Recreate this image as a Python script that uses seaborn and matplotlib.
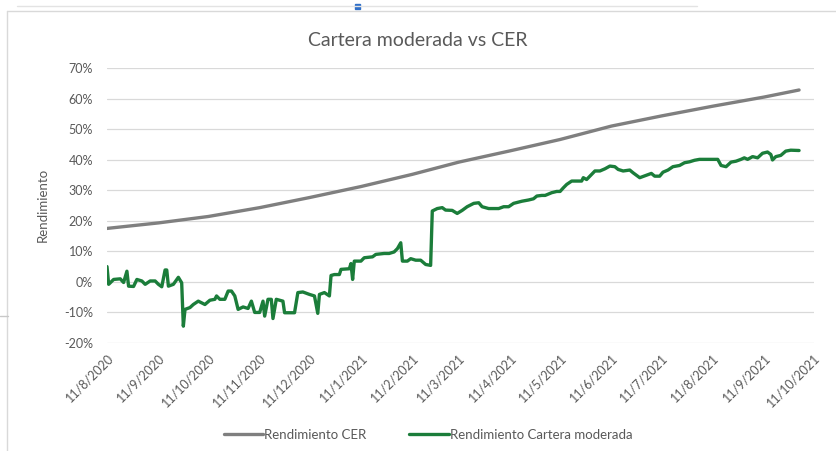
import matplotlib
matplotlib.use("Agg")
import matplotlib.pyplot as plt
from matplotlib.lines import Line2D
from matplotlib.patches import Rectangle
import seaborn as sns
import pandas as pd

# --- datos ---
inicio = "2020-08-11"

dias_cer = [0, 31, 61, 92, 122, 153, 184, 212, 243, 273, 304, 334, 365, 396, 417]
rend_cer = [17.5, 19.3, 21.4, 24.3, 27.6, 31.2, 35.2, 39.2, 42.9, 46.6, 51.0, 54.3, 57.5, 60.5, 62.8]

dias_cartera = [0, 1, 4, 8, 10, 12, 13, 16, 18, 21, 23, 26, 29, 31, 33, 35, 36, 37, 40, 43,
                45, 46, 47, 50, 52, 55, 59, 62, 65, 66, 68, 71, 73, 75, 77, 79, 82, 85, 87, 89,
                92, 94, 95, 97, 99, 100, 102, 106, 107, 113, 115, 118, 122, 125, 127, 128, 131, 134, 135, 137,
                140, 141, 146, 147, 148, 149, 153, 155, 160, 162, 167, 170, 173, 175, 177, 178, 181, 183, 186, 189,
                192, 195, 196, 199, 202, 204, 208, 211, 214, 217, 221, 224, 226, 230, 236, 239, 242, 245, 250, 254,
                257, 259, 262, 264, 268, 271, 273, 275, 277, 280, 286, 287, 289, 291, 294, 297, 300, 303, 306, 308,
                311, 315, 317, 321, 325, 328, 330, 333, 335, 338, 341, 345, 348, 351, 354, 357, 368, 370, 373, 376,
                379, 382, 384, 386, 389, 392, 395, 398, 400, 401, 403, 406, 409, 412, 417]
rend_cartera = [5.0, -0.8, 0.8, 1.0, -0.2, 3.5, -1.4, -1.5, 0.8, 0.3, -0.8, 0.3, 0.3, -0.8, -1.6, 3.9, 3.9, -1.4, -0.8, 1.5,
                -0.3, -14.5, -9.0, -8.4, -7.4, -6.3, -7.4, -6.0, -5.7, -4.6, -5.7, -5.7, -3.0, -3.0, -4.6, -9.0, -8.2, -8.7, -6.3, -10.0,
                -10.0, -6.3, -11.2, -5.7, -5.7, -12.0, -5.7, -6.3, -10.1, -10.1, -3.5, -3.3, -4.1, -4.6, -10.3, -4.1, -3.5, -4.6, 2.1, 2.4,
                2.4, 4.1, 4.3, 6.0, 0.8, 6.8, 6.8, 7.9, 8.2, 9.0, 9.3, 9.3, 9.8, 10.9, 12.8, 6.8, 6.8, 7.6, 7.1, 7.1,
                5.7, 5.4, 23.2, 24.0, 24.3, 23.5, 23.4, 22.4, 23.4, 24.6, 25.7, 25.9, 24.6, 24.0, 24.0, 24.6, 24.6, 25.7, 26.4, 26.8,
                27.2, 28.1, 28.3, 28.3, 29.2, 29.6, 29.6, 30.8, 31.9, 33.0, 33.0, 34.1, 33.5, 34.6, 36.3, 36.3, 37.0, 37.9, 37.7, 36.8,
                36.3, 36.6, 35.7, 34.1, 34.9, 35.5, 34.6, 34.6, 35.9, 36.6, 37.7, 38.1, 39.0, 39.3, 39.8, 40.1, 40.1, 38.1, 37.7, 39.2,
                39.5, 40.1, 40.6, 40.1, 41.0, 40.6, 42.1, 42.5, 41.7, 39.9, 41.0, 41.4, 42.8, 43.1, 43.0]

fechas_ticks = ["2020-08-11", "2020-09-11", "2020-10-11", "2020-11-11", "2020-12-11", "2021-01-11", "2021-02-11",
                "2021-03-11", "2021-04-11", "2021-05-11", "2021-06-11", "2021-07-11", "2021-08-11", "2021-09-11",
                "2021-10-11"]
etiquetas_x = ["11/8/2020", "11/9/2020", "11/10/2020", "11/11/2020", "11/12/2020", "11/1/2021", "11/2/2021",
               "11/3/2021", "11/4/2021", "11/5/2021", "11/6/2021", "11/7/2021", "11/8/2021", "11/9/2021",
               "11/10/2021"]
ticks_y = [-20, -10, 0, 10, 20, 30, 40, 50, 60, 70]
etiquetas_y = ["-20%", "-10%", "0%", "10%", "20%", "30%", "40%", "50%", "60%", "70%"]

t0 = pd.Timestamp(inicio)
cer = pd.DataFrame({"fecha": t0 + pd.to_timedelta(dias_cer, unit="D"), "rend": rend_cer})
cartera = pd.DataFrame({"fecha": t0 + pd.to_timedelta(dias_cartera, unit="D"), "rend": rend_cartera})

sns.set_style("white")
plt.rcParams["font.family"] = ["Lato", "DejaVu Sans"]
texto = "#595959"
gris = "#7f7f7f"
verde = "#1b7d3a"

fig = plt.figure(figsize=(8.37, 4.51), dpi=100)
ax = fig.add_axes([107 / 837, 1 - 343 / 451, 707 / 837, 275 / 451])

sns.lineplot(data=cer, x="fecha", y="rend", ax=ax, color=gris, linewidth=2.4, label="Rendimiento CER")
sns.lineplot(data=cartera, x="fecha", y="rend", ax=ax, color=verde, linewidth=2.4,
             label="Rendimiento Cartera moderada")

ax.set_ylim(-20, 70)
ax.set_xlim(pd.Timestamp("2020-08-11"), pd.Timestamp("2021-10-11"))
ax.set_yticks(ticks_y)
ax.set_yticklabels(etiquetas_y)
ax.set_xticks(pd.to_datetime(fechas_ticks))
ax.set_xticklabels(etiquetas_x, rotation=45, ha="right", rotation_mode="anchor")
ax.tick_params(axis="both", length=0, labelsize=9, labelcolor=texto)
ax.tick_params(axis="y", pad=10)
ax.tick_params(axis="x", pad=6)
ax.grid(axis="y", color="#d9d9d9", linewidth=0.9)
ax.grid(axis="x", visible=False)
for s in ax.spines.values():
    s.set_visible(False)
ax.set_xlabel("")
ax.set_ylabel("")
ax.get_legend().remove()

fig.text(418 / 837, 1 - 40 / 451, "Cartera moderada vs CER", ha="center", va="center", fontsize=14, color=texto)
fig.text(43 / 837, 1 - 205 / 451, "Rendimiento", rotation=90, ha="center", va="center", fontsize=9.5, color=texto)

handles, labels = ax.get_legend_handles_labels()
fig.legend(handles, labels, loc="center", bbox_to_anchor=(428 / 837, 1 - 435 / 451), ncol=2, frameon=False,
           fontsize=9.5, labelcolor=texto, handlelength=3.0, handletextpad=0.1, columnspacing=3.2)

# marco y restos de la captura
fig.add_artist(Line2D([7 / 837, 1], [1 - 11 / 451] * 2, transform=fig.transFigure, color="#d9d9d9", lw=1))
fig.add_artist(Line2D([7 / 837] * 2, [0, 1 - 11 / 451], transform=fig.transFigure, color="#d9d9d9", lw=1))
fig.add_artist(Line2D([17 / 837, 697 / 837], [1 - 6 / 451] * 2, transform=fig.transFigure, color="#e3e3e3", lw=1))
fig.add_artist(Rectangle((355 / 837, 1 - 9 / 451), 5 / 837, 5 / 451, transform=fig.transFigure, color="#2f6fc8"))
fig.add_artist(Line2D([0, 8 / 837], [1 - 316 / 451] * 2, transform=fig.transFigure, color="#c8c8c8", lw=1))

fig.savefig("out.png", dpi=100)
